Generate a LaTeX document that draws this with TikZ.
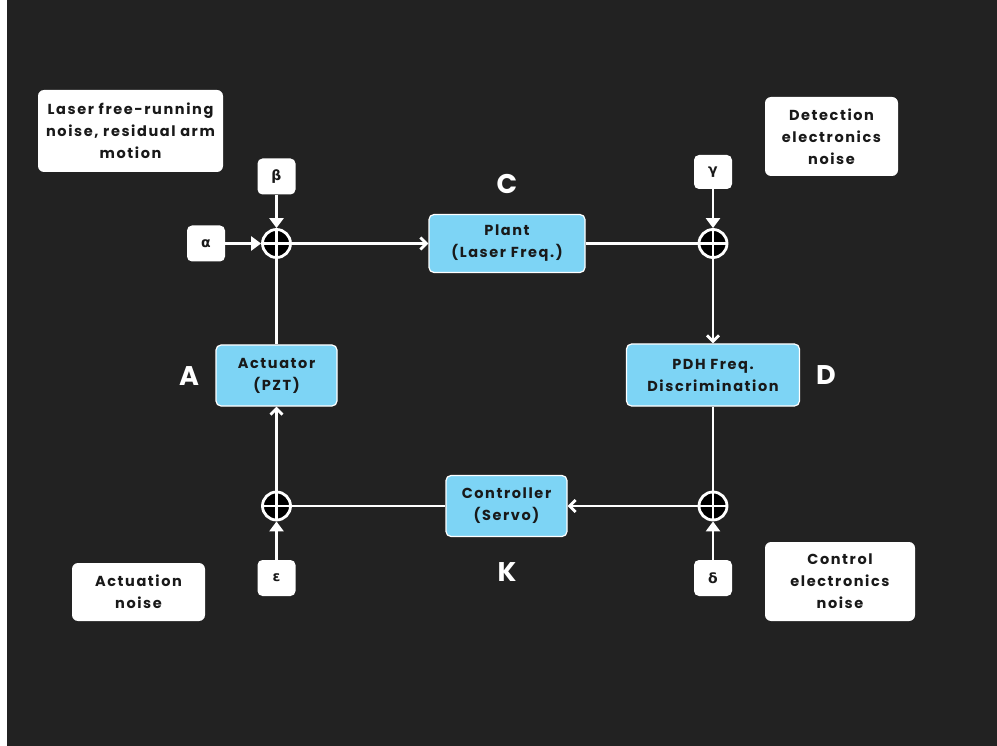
\documentclass[tikz,border=0pt]{standalone}
\usepackage{fontspec}
\setmainfont{Poppins}[LetterSpace=11]
\newfontfamily\grk{DejaVu Sans}
\usetikzlibrary{arrows.meta}
\definecolor{bgdark}{HTML}{222222}
\definecolor{plantblue}{HTML}{7DD4F5}

\begin{document}
\begin{tikzpicture}[x=1pt,y=-1pt,
        font=\bfseries\fontsize{14.5}{22}\selectfont,
        every node/.style={inner sep=0pt,align=center},
        blk/.style={draw=white,line width=1.2pt,fill=plantblue,rounded corners=5pt,text=black!90},
        note/.style={fill=white,rounded corners=6pt,text=black!90},
        inp/.style={fill=white,rounded corners=5pt,minimum width=38pt,minimum height=36pt,text=black!90,
            font=\grk\bfseries\fontsize{14}{18}\selectfont},
        sumj/.style={circle,draw=white,line width=2.8pt,fill=black,minimum size=28pt,
            path picture={\draw[white,line width=2.8pt]
                (path picture bounding box.north) -- (path picture bounding box.south)
                (path picture bounding box.west) -- (path picture bounding box.east);}},
        tag/.style={text=white,font=\bfseries\fontsize{27}{30}\selectfont},
        sig/.style={white,line width=2.8pt},
        into/.style={sig,-{Triangle[length=10pt,width=14pt]}},
        feed/.style={sig,-{Straight Barb[length=6pt,width=12pt,line width=2.8pt]}}]

    % background
    \fill[bgdark] (0,0) rectangle (997,746);
    \fill[white] (0,0) rectangle (7,746);

    % noise notes
    \node[note,minimum width=185pt,minimum height=82pt] (lasn) at (130.5,131) {Laser free-running\\noise, residual arm\\motion};
    \node[note,minimum width=133pt,minimum height=79pt] (detn) at (831.5,136.5) {Detection\\electronics\\noise};
    \node[note,minimum width=133pt,minimum height=58pt] (actn) at (138.5,592) {Actuation\\noise};
    \node[note,minimum width=150pt,minimum height=79pt] (ctln) at (840,581.5) {Control\\electronics\\noise};

    % inputs
    \node[inp] (beta) at (276.5,176.5) {β};
    \node[inp] (alpha) at (206,243.5) {α};
    \node[inp,minimum height=34pt] (gamma) at (713,172) {γ};
    \node[inp] (eps) at (276.5,578) {ε};
    \node[inp] (delta) at (713,578) {δ};

    % summing junctions
    \node[sumj] (s1) at (276.5,243.5) {};
    \node[sumj] (s2) at (713,243.5) {};
    \node[sumj] (s3) at (276.5,506) {};
    \node[sumj] (s4) at (713,506) {};

    % blocks
    \node[blk,minimum width=156pt,minimum height=58pt] (plant) at (507,243.5) {Plant\\(Laser Freq.)};
    \node[blk,minimum width=173pt,minimum height=62pt] (pdh) at (713,375) {PDH Freq.\\Discrimination};
    \node[blk,minimum width=121pt,minimum height=61pt] (act) at (276.5,375.5) {Actuator\\(PZT)};
    \node[blk,minimum width=121pt,minimum height=61pt] (ctl) at (506.5,506) {Controller\\(Servo)};

    % block letters
    \node[tag] (tc) at (507,184) {C};
    \node[tag] (ta) at (189,376) {A};
    \node[tag] (td) at (826,375) {D};
    \node[tag] (tk) at (507,572) {K};

    % noise inputs
    \draw[into] (beta) -- (s1);
    \draw[into] (alpha) -- (s1);
    \draw[into] (gamma) -- (s2);
    \draw[into] (eps) -- (s3);
    \draw[into] (delta) -- (s4);

    % loop
    \draw[feed] (s1) -- (plant);
    \draw[sig] (plant) -- (s2);
    \draw[feed] (s2) -- (pdh);
    \draw[sig] (pdh) -- (s4);
    \draw[feed] (s4) -- (ctl);
    \draw[sig] (ctl) -- (s3);
    \draw[feed] (s3) -- (act);
    \draw[sig] (act) -- (s1);

\end{tikzpicture}
\end{document}
